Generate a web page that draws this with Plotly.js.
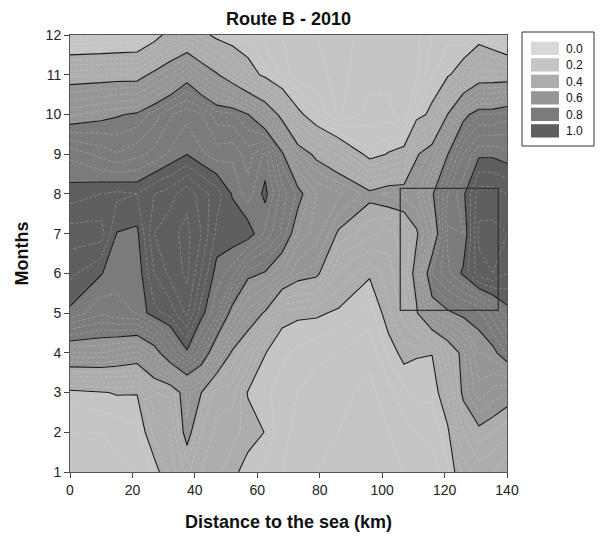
<!DOCTYPE html>
<html>
<head>
<meta charset="utf-8">
<script src="https://cdn.plot.ly/plotly-3.0.1.min.js"></script>
<style>html,body{margin:0;padding:0;background:#fff;}#chart{width:601px;height:542px;}</style>
</head>
<body>
<div id="chart"></div>
<script>
// Distance to the sea (km) of the sampled stations
const distanceKm = [0, 10, 15, 21.5, 27, 32, 37.5, 42, 47, 52, 57, 62.5, 68, 73, 79, 86, 96, 102, 107, 111, 116, 121, 126, 131, 135.5, 140];
const months = [1, 2, 3, 4, 5, 6, 7, 8, 9, 10, 11, 12];

// values per month (one entry per station)
const month01 = [0.10,0.10,0.11,0.12,0.17,0.26,0.33,0.28,0.25,0.22,0.17,0.15,0.12,0.10,0.08,0.07,0.06,0.07,0.08,0.10,0.10,0.15,0.26,0.30,0.28,0.25];
const month02 = [0.12,0.12,0.13,0.15,0.256,0.28,0.434,0.32,0.27,0.25,0.23,0.198,0.13,0.11,0.09,0.08,0.06,0.08,0.10,0.12,0.13,0.19,0.32,0.38,0.36,0.33];
const month03 = [0.18,0.195,0.205,0.203,0.316,0.329,0.451,0.402,0.296,0.30,0.195,0.17,0.14,0.12,0.10,0.09,0.07,0.10,0.15,0.17,0.17,0.246,0.42,0.505,0.463,0.439];
const month04 = [0.52,0.52,0.50,0.473,0.55,0.686,0.79,0.689,0.513,0.388,0.32,0.202,0.17,0.15,0.13,0.12,0.09,0.17,0.22,0.205,0.202,0.32,0.43,0.56,0.58,0.648];
const month05 = [0.79,0.73,0.75,0.762,0.828,0.854,0.93,0.82,0.73,0.565,0.463,0.39,0.218,0.211,0.21,0.19,0.14,0.231,0.30,0.39,0.543,0.587,0.62,0.63,0.70,0.78];
const month06 = [0.85,0.803,0.77,0.77,0.88,0.93,0.97,0.88,0.78,0.74,0.622,0.594,0.52,0.444,0.419,0.273,0.209,0.26,0.33,0.43,0.682,0.75,0.81,0.904,0.92,0.88];
const month07 = [0.90,0.90,0.798,0.79,0.92,0.95,0.97,0.92,0.83,0.832,0.83,0.75,0.671,0.55,0.50,0.39,0.33,0.30,0.34,0.39,0.504,0.77,0.76,0.93,0.93,0.92];
const month08 = [0.82,0.84,0.85,0.84,0.88,0.90,0.95,0.90,0.86,0.796,0.74,0.815,0.70,0.63,0.52,0.49,0.42,0.45,0.45,0.47,0.59,0.72,0.79,0.90,0.90,0.88];
const month09 = [0.75,0.707,0.683,0.707,0.732,0.767,0.799,0.767,0.74,0.75,0.70,0.77,0.6125,0.454,0.379,0.317,0.17,0.205,0.24,0.39,0.46,0.598,0.72,0.79,0.79,0.776];
const month10 = [0.55,0.58,0.594,0.61,0.66,0.713,0.75,0.723,0.658,0.651,0.602,0.50,0.3625,0.229,0.13,0.032,0.10,0.10,0.04,0.17,0.22,0.402,0.574,0.64,0.64,0.664];
const month11 = [0.35,0.355,0.36,0.36,0.426,0.478,0.5625,0.477,0.41,0.333,0.241,0.18,0.1125,0.05,0.05,0.03,0.06,0.06,0.05,0.07,0.155,0.19,0.246,0.337,0.34,0.342];
const month12 = [0.05,0.063,0.069,0.08,0.155,0.243,0.272,0.23,0.177,0.151,0.146,0.10,0.08,0.05,0.04,0.03,0.05,0.05,0.05,0.07,0.12,0.15,0.131,0.157,0.118,0.058];

const xTicks = [0, 20, 40, 60, 80, 100, 120, 140];
const yTicks = [1, 2, 3, 4, 5, 6, 7, 8, 9, 10, 11, 12];
const legendLabels = ['0.0', '0.2', '0.4', '0.6', '0.8', '1.0'];
const legendColors = ['#d9d9d9', '#c5c5c5', '#adadad', '#969696', '#7b7b7b', '#5f5f5f'];
// highlighted area: [x0, x1, y0, y1]
const focusBox = [105.8, 137.2, 5.07, 8.14];

const z = [month01, month02, month03, month04, month05, month06, month07, month08, month09, month10, month11, month12];

const bandScale = [
  [0, legendColors[1]], [0.25, legendColors[2]], [0.5, legendColors[3]],
  [0.75, legendColors[4]], [1, legendColors[5]]
];

const fillTrace = {
  type: 'contour', x: distanceKm, y: months, z: z,
  autocontour: false,
  contours: {start: 0.2, end: 0.8, size: 0.2, coloring: 'fill', showlines: false},
  colorscale: bandScale, showscale: false,
  line: {width: 0, smoothing: 0},
  hoverinfo: 'skip'
};
const minorTrace = {
  type: 'contour', x: distanceKm, y: months, z: z,
  autocontour: false,
  contours: {start: 0.04, end: 0.96, size: 0.04, coloring: 'none', showlines: true},
  showscale: false,
  line: {width: 0.5, color: 'rgba(230,230,230,0.55)', dash: '3px,2px', smoothing: 0},
  hoverinfo: 'skip'
};
const majorTrace = {
  type: 'contour', x: distanceKm, y: months, z: z,
  autocontour: false,
  contours: {start: 0.2, end: 0.8, size: 0.2, coloring: 'none', showlines: true},
  showscale: false,
  line: {width: 1.1, color: '#1a1a1a', smoothing: 0},
  hoverinfo: 'skip'
};

// plot-area pixel helpers for the hand-drawn legend
const L = 70, R = 507, T = 35, B = 472;
const px = v => (v - L) / (R - L);
const py = v => (B - v) / (B - T);

const shapes = [{
  type: 'rect', xref: 'x', yref: 'y',
  x0: focusBox[0], x1: focusBox[1], y0: focusBox[2], y1: focusBox[3],
  line: {color: '#333333', width: 1.3}, fillcolor: 'rgba(0,0,0,0)'
}, {
  type: 'rect', xref: 'paper', yref: 'paper',
  x0: px(522), x1: px(594), y0: py(146), y1: py(32),
  line: {color: '#333333', width: 1}, fillcolor: '#ffffff'
}];
const annotations = [];
legendLabels.forEach((lab, i) => {
  const top = 41.7 + i * 16.5;
  shapes.push({
    type: 'rect', xref: 'paper', yref: 'paper',
    x0: px(531), x1: px(559), y0: py(top + 13.3), y1: py(top),
    line: {width: 0}, fillcolor: legendColors[i]
  });
  annotations.push({
    xref: 'paper', yref: 'paper', x: px(564), y: py(top + 6.9),
    xanchor: 'left', yanchor: 'middle', showarrow: false,
    text: lab, font: {family: 'Liberation Sans, Arial, sans-serif', size: 12, color: '#111'}
  });
});

const layout = {
  width: 601, height: 542,
  margin: {l: L, r: 601 - R, t: T, b: 542 - B, pad: 0},
  paper_bgcolor: '#ffffff', plot_bgcolor: '#ffffff',
  font: {family: 'Liberation Sans, Arial, sans-serif', color: '#111'},
  title: {
    text: 'Route B - 2010', x: 0.5, xref: 'paper', y: 1 - 19 / 542, yref: 'container',
    xanchor: 'center', yanchor: 'middle',
    font: {family: 'Liberation Sans, Arial, sans-serif', size: 18, weight: 'bold', color: '#111'}
  },
  xaxis: {
    range: [0, 140], tickvals: xTicks, ticks: 'outside', ticklen: 5, tickcolor: '#444',
    showline: true, linecolor: '#555', linewidth: 1, mirror: true,
    showgrid: false, zeroline: false,
    tickfont: {size: 14, color: '#222'},
    title: {text: 'Distance to the sea (km)', standoff: 18,
      font: {family: 'Liberation Sans, Arial, sans-serif', size: 18, weight: 'bold', color: '#111'}}
  },
  yaxis: {
    range: [1, 12], tickvals: yTicks, ticks: 'outside', ticklen: 5, tickcolor: '#444',
    showline: true, linecolor: '#555', linewidth: 1, mirror: true,
    showgrid: false, zeroline: false,
    tickfont: {size: 14, color: '#222'},
    title: {text: 'Months', standoff: 12,
      font: {family: 'Liberation Sans, Arial, sans-serif', size: 18, weight: 'bold', color: '#111'}}
  },
  shapes: shapes,
  annotations: annotations,
  showlegend: false
};

Plotly.newPlot('chart', [fillTrace, minorTrace, majorTrace], layout, {displayModeBar: false, staticPlot: true});
</script>
</body>
</html>
